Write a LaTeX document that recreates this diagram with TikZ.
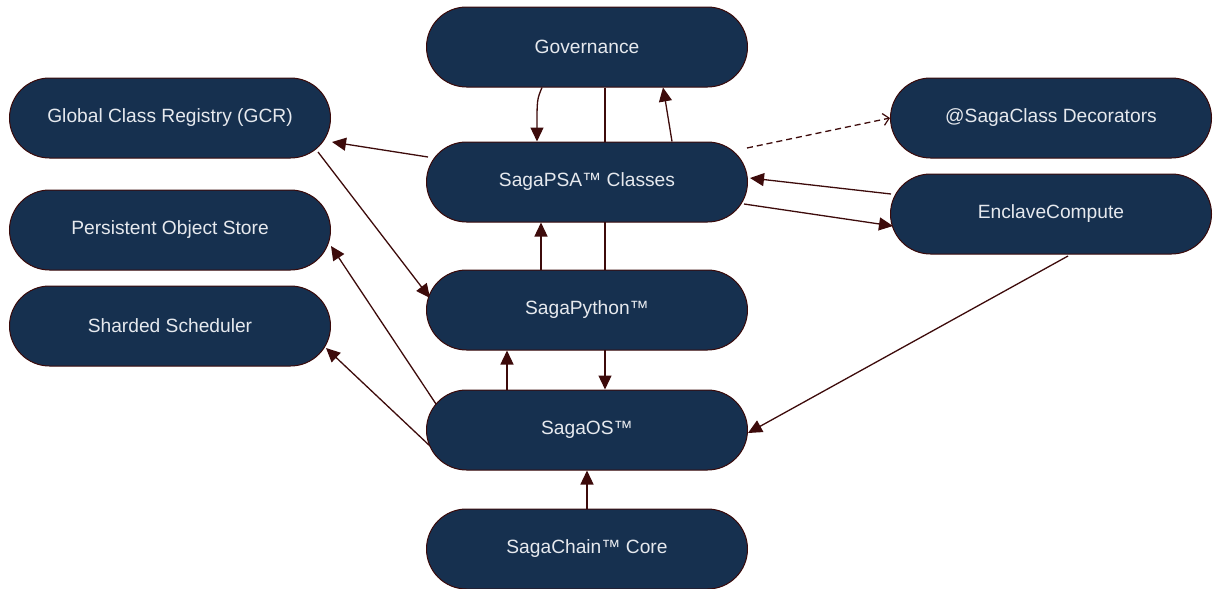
\documentclass[tikz,border=0pt]{standalone}
\usepackage{fontspec}
\setmainfont{Liberation Sans}
\usetikzlibrary{arrows.meta,calc,backgrounds}
\definecolor{boxfill}{HTML}{16304F}
\definecolor{boxline}{HTML}{3A0A0A}
\definecolor{edge}{HTML}{3D0B0B}
\definecolor{boxtext}{HTML}{E6E9EE}
\tikzset{
  pill/.style={draw=boxline, line width=1pt, fill=boxfill, rounded corners=40pt,
    minimum width=321pt, minimum height=80pt, inner sep=0pt,
    text=boxtext, font=\fontsize{19.2}{23}\selectfont},
  link/.style={draw=edge, line width=1.3pt, -{Triangle[length=14pt,width=13pt]}},
  weak/.style={draw=edge, line width=1.3pt, dash pattern=on 6pt off 4pt,
    -{Straight Barb[length=6pt,width=12pt,line width=1.2pt]}}
}
\begin{document}
\begin{tikzpicture}[x=1pt,y=-1pt]
\useasboundingbox (0,0) rectangle (1216,589);
% component nodes
\node[pill] (gov)   at (587,47)  {Governance};
\node[pill] (gcr)   at (170,118) {Global Class Registry (GCR)};
\node[pill] (psa)   at (587,182) {SagaPSA™ Classes};
\node[pill] (dec)   at (1051,118) {@SagaClass Decorators};
\node[pill] (enc)   at (1051,214) {EnclaveCompute};
\node[pill] (pos)   at (170,230) {Persistent Object Store};
\node[pill] (shs)   at (170,326) {Sharded Scheduler};
\node[pill] (spy)   at (587,310) {SagaPython™};
\node[pill] (sos)   at (587,430) {SagaOS™};
\node[pill] (chain) at (587,549) {SagaChain™ Core};
% connectors, kept behind the nodes
\begin{scope}[on background layer]
\draw[link] ($(gov.south)+(-45,0)$) .. controls ($(gov.south)+(-50,12)$) .. ($(psa.north)+(-50,0)$);
\draw[link] ($(gov.south)+(18,0)$) -- ($(sos.north)+(18,0)$);
\draw[link] ($(psa.north)+(85,0)$) .. controls ($(psa.north)+(82,-20)$) .. ($(gov.south)+(76,0)$);
\draw[link] ($(psa)+(-159,-25)$) -- ($(gcr)+(162,24)$);
\draw[link] ($(gcr)+(148,34)$) -- ($(spy)+(-157,-12)$);
\draw[link] ($(sos)+(-149,-23)$) -- ($(pos)+(161,16)$);
\draw[link] ($(sos)+(-157,16)$) -- ($(shs)+(156,22)$);
\draw[link] ($(spy.north)+(-46,0)$) -- ($(psa.south)+(-46,0)$);
\draw[link] ($(sos.north)+(-80,0)$) -- ($(spy.south)+(-80,0)$);
\draw[link] (chain.north) -- (sos.south);
\draw[weak] ($(psa)+(160,-34)$) -- ($(dec)+(-161,0)$);
\draw[link] ($(enc)+(-160,-20)$) -- ($(psa)+(163,-4)$);
\draw[link] ($(psa)+(157,22)$) -- ($(enc)+(-158,12)$);
\draw[link] ($(enc)+(17,42)$) -- ($(sos)+(161,3)$);
\end{scope}
\end{tikzpicture}
\end{document}
